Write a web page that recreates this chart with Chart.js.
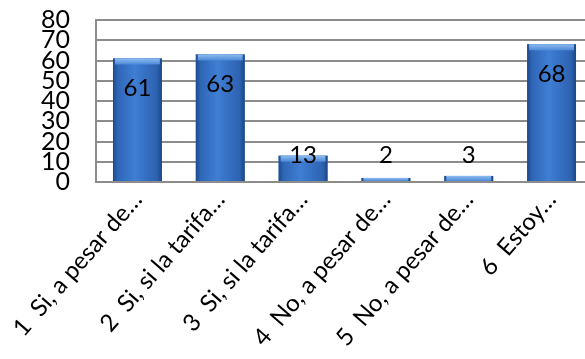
<!DOCTYPE html>
<html>
<head>
<meta charset="utf-8">
<script src="https://cdn.jsdelivr.net/npm/chart.js@4.4.1/dist/chart.umd.min.js"></script>
<style>
  html, body { margin: 0; padding: 0; background: #fff; overflow: hidden; }
  #wrap { width: 600px; height: 359px; }
</style>
</head>
<body>
<div id="wrap"><canvas id="myChart" width="600" height="359"></canvas></div>
<script>
const categories = [
  "1  Si, a pesar de…",
  "2  Si, si la tarifa…",
  "3  Si, si la tarifa…",
  "4  No, a pesar de…",
  "5  No, a pesar de…",
  "6  Estoy…"
];
const values = [61, 63, 13, 2, 3, 68];
const yTicks = [0, 10, 20, 30, 40, 50, 60, 70, 80];

const FONT = "Lato, 'Liberation Sans', sans-serif";

// shading + value labels on top of the bars
const barLook = {
  id: "barLook",
  afterDatasetsDraw(chart) {
    const ctx = chart.ctx;
    const meta = chart.getDatasetMeta(0);
    const yScale = chart.scales.y;
    meta.data.forEach((bar, i) => {
      const left = bar.x - bar.width / 2;
      const right = bar.x + bar.width / 2;
      const top = bar.y;
      const bottom = bar.base;
      const g = ctx.createLinearGradient(left, 0, right, 0);
      g.addColorStop(0, "#1c4a8e");
      g.addColorStop(0.1, "#2f66b6");
      g.addColorStop(0.45, "#3f7fd4");
      g.addColorStop(0.55, "#3a77cb");
      g.addColorStop(0.9, "#2d62b0");
      g.addColorStop(1, "#1a4585");
      ctx.save();
      ctx.fillStyle = g;
      ctx.fillRect(left, top, right - left, bottom - top);
      // light cap on top
      const capH = Math.min(6, bottom - top);
      const cg = ctx.createLinearGradient(0, top, 0, top + capH);
      cg.addColorStop(0, "#8dbbee");
      cg.addColorStop(1, "#4d8ad8");
      ctx.fillStyle = cg;
      ctx.fillRect(left + 2, top, right - left - 4, capH);
      ctx.restore();

      // value label
      const y = Math.min(top + 30, yScale.getPixelForValue(13));
      ctx.save();
      ctx.fillStyle = "#000";
      ctx.font = "24px " + FONT;
      ctx.textAlign = "center";
      ctx.textBaseline = "middle";
      ctx.fillText(values[i], bar.x, y);
      ctx.restore();
    });
  }
};

const config = {
  type: "bar",
  data: {
    labels: categories,
    datasets: [
      {
        data: values,
        backgroundColor: "#3a77cb",
        borderWidth: 0,
        barPercentage: 0.59,
        categoryPercentage: 1.0
      }
    ]
  },
  options: {
    responsive: false,
    animation: false,
    layout: { padding: { top: 0, right: 7, left: 0, bottom: 0 } },
    plugins: {
      legend: { display: false },
      tooltip: { enabled: false }
    },
    scales: {
      x: {
        afterFit: (s) => { s.height = 177; },
        grid: { display: false, drawTicks: false },
        border: { display: true, color: "#8c8c8c", width: 2 },
        ticks: {
          autoSkip: false,
          minRotation: 49,
          maxRotation: 49,
          padding: 4,
          color: "#000",
          font: { family: FONT, size: 24 }
        }
      },
      y: {
        min: 0,
        max: 80,
        afterFit: (s) => {
          s.width = 96;
          s.paddingTop = 20;
          s.paddingBottom = 15;
        },
        afterBuildTicks: (s) => { s.ticks = yTicks.map((v) => ({ value: v })); },
        grid: { color: "#8c8c8c", lineWidth: 2, drawTicks: false },
        border: { display: true, color: "#8c8c8c", width: 2 },
        ticks: {
          autoSkip: false,
          padding: 26,
          color: "#000",
          font: { family: FONT, size: 25 }
        }
      }
    }
  },
  plugins: [barLook]
};

let myChart = new Chart(document.getElementById("myChart"), config);
</script>
</body>
</html>
